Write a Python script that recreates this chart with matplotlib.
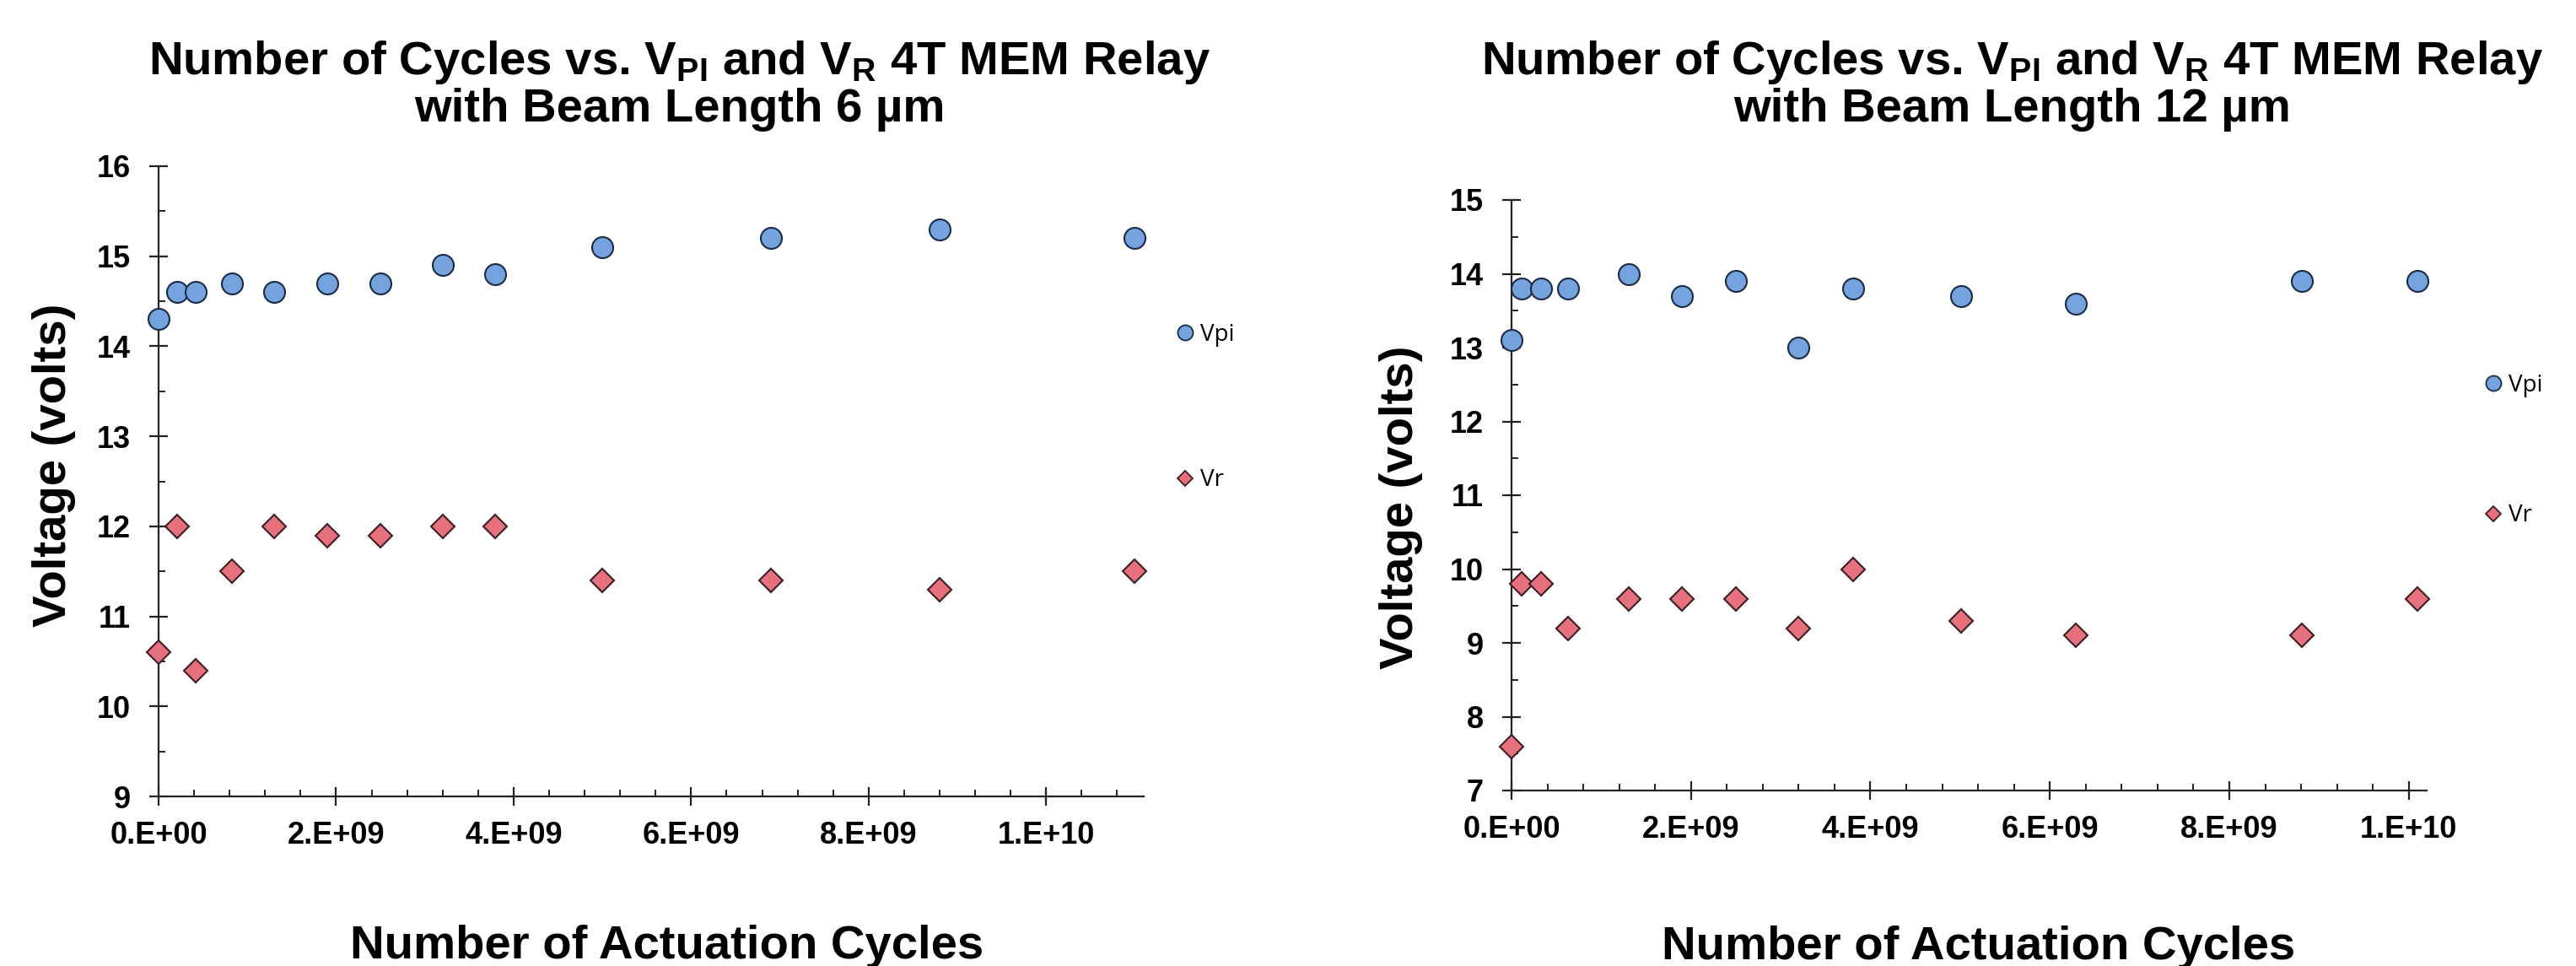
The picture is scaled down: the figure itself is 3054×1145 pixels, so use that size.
import numpy as np
import matplotlib
matplotlib.use("Agg")
import matplotlib.pyplot as plt
from matplotlib.lines import Line2D
from matplotlib.ticker import MultipleLocator, FuncFormatter

# data (x in actuation cycles, y in volts)
cycles_6um = np.array([0, 0.21, 0.42, 0.83, 1.3, 1.9, 2.5, 3.2, 3.79, 5.0, 6.9, 8.8, 11.0]) * 1e9
vpi_6um = [14.3, 14.6, 14.6, 14.7, 14.6, 14.7, 14.7, 14.9, 14.8, 15.1, 15.2, 15.3, 15.2]
vr_6um = [10.6, 12.0, 10.4, 11.5, 12.0, 11.9, 11.9, 12.0, 12.0, 11.4, 11.4, 11.3, 11.5]

cycles_12um = np.array([0, 0.115, 0.33, 0.63, 1.31, 1.9, 2.5, 3.2, 3.81, 5.01, 6.29, 8.81, 10.1]) * 1e9
vpi_12um = [13.1, 13.8, 13.8, 13.8, 14.0, 13.7, 13.9, 13.0, 13.8, 13.7, 13.6, 13.9, 13.9]
vr_12um = [7.6, 9.8, 9.8, 9.2, 9.6, 9.6, 9.6, 9.2, 10.0, 9.3, 9.1, 9.1, 9.6]

series_labels = ["Vpi", "Vr"]
titles = ["Number of Cycles vs. $\\mathregular{V_{PI}}$ and $\\mathregular{V_R}$ 4T MEM Relay\nwith Beam Length 6 µm",
          "Number of Cycles vs. $\\mathregular{V_{PI}}$ and $\\mathregular{V_R}$ 4T MEM Relay\nwith Beam Length 12 µm"]
xlabel = "Number of Actuation Cycles"
ylabel = "Voltage (volts)"

W, H = 3054, 1145
head_font = ["Liberation Sans", "DejaVu Sans"]
tick_font = ["Liberation Sans", "DejaVu Sans"]
head_size = 40.5
blue_face, blue_edge = "#74a3de", "#1c2b45"
pink_face, pink_edge = "#e6707e", "#3b1f22"

fig = plt.figure(figsize=(W / 100, H / 100), dpi=100)
fig.patch.set_facecolor("white")


def sci_label(v, pos):
    return "{:.0E}".format(v).replace("E", ".E")


def draw_panel(rect, x, vpi, vr, xmax, ylim, title, tcenter, ylab_xy, xlab_xy, leg_xy, leg_space):
    ax = fig.add_axes([rect[0] / W, 1 - rect[3] / H, (rect[2] - rect[0]) / W, (rect[3] - rect[1]) / H])
    ax.plot(x, vpi, linestyle="none", marker="o", markersize=18, markerfacecolor=blue_face,
            markeredgecolor=blue_edge, markeredgewidth=1.5, clip_on=False, zorder=3)
    ax.plot(x, vr, linestyle="none", marker="D", markersize=14, markerfacecolor=pink_face,
            markeredgecolor=pink_edge, markeredgewidth=1.5, clip_on=False, zorder=3)
    ax.set_xlim(0, xmax)
    ax.set_ylim(*ylim)
    for s in ["top", "right"]:
        ax.spines[s].set_visible(False)
    for s in ["left", "bottom"]:
        ax.spines[s].set_linewidth(1.6)
        ax.spines[s].set_color("#222222")
    ax.xaxis.set_major_locator(MultipleLocator(2e9))
    ax.xaxis.set_minor_locator(MultipleLocator(4e8))
    ax.yaxis.set_major_locator(MultipleLocator(1))
    ax.yaxis.set_minor_locator(MultipleLocator(0.5))
    ax.xaxis.set_major_formatter(FuncFormatter(sci_label))
    ax.tick_params(which="major", direction="inout", length=16, width=1.6, color="#222222",
                   labelsize=26, pad=13)
    ax.tick_params(which="minor", direction="in", length=6, width=1.4, color="#222222")
    ax.tick_params(axis="y", which="major", pad=16)
    for lab in ax.get_xticklabels() + ax.get_yticklabels():
        lab.set_family(tick_font)
        lab.set_fontweight("bold")

    ax.set_ylabel(ylabel, family=head_font, fontweight="bold", fontsize=head_size)
    ax.yaxis.set_label_coords(*ylab_xy)
    ax.set_xlabel(xlabel, family=head_font, fontweight="bold", fontsize=head_size)
    ax.xaxis.set_label_coords(*xlab_xy)

    fig.text(tcenter / W, 1 - 46 / H, title, ha="center", va="top", family=head_font,
             fontweight="bold", fontsize=head_size, linespacing=1.05)

    handles = [Line2D([], [], linestyle="none", marker="o", markersize=13, markerfacecolor=blue_face,
                      markeredgecolor=blue_edge, markeredgewidth=1.3),
               Line2D([], [], linestyle="none", marker="D", markersize=9, markerfacecolor=pink_face,
                      markeredgecolor=pink_edge, markeredgewidth=1.3)]
    ax.legend(handles, series_labels, loc="upper left", bbox_to_anchor=(leg_xy[0] / W, 1 - leg_xy[1] / H),
              bbox_transform=fig.transFigure, frameon=False, borderpad=0, borderaxespad=0,
              handlelength=0.7, handletextpad=0.3, labelspacing=leg_space,
              prop={"family": ["Open Sans", "DejaVu Sans"], "size": 20})
    return ax


draw_panel((188, 197, 1356, 944), cycles_6um, vpi_6um, vr_6um, 11.1e9, (9, 16), titles[0], 806,
           (-0.084, 0.526), (0.516, -0.204), (1395, 383), 5.2)
draw_panel((1792, 237, 2877, 937), cycles_12um, vpi_12um, vr_12um, 10.2e9, (7, 15), titles[1], 2386,
           (-0.097, 0.479), (0.510, -0.228), (2946, 443), 4.55)

fig.savefig("out.png", dpi=100, facecolor="white")
